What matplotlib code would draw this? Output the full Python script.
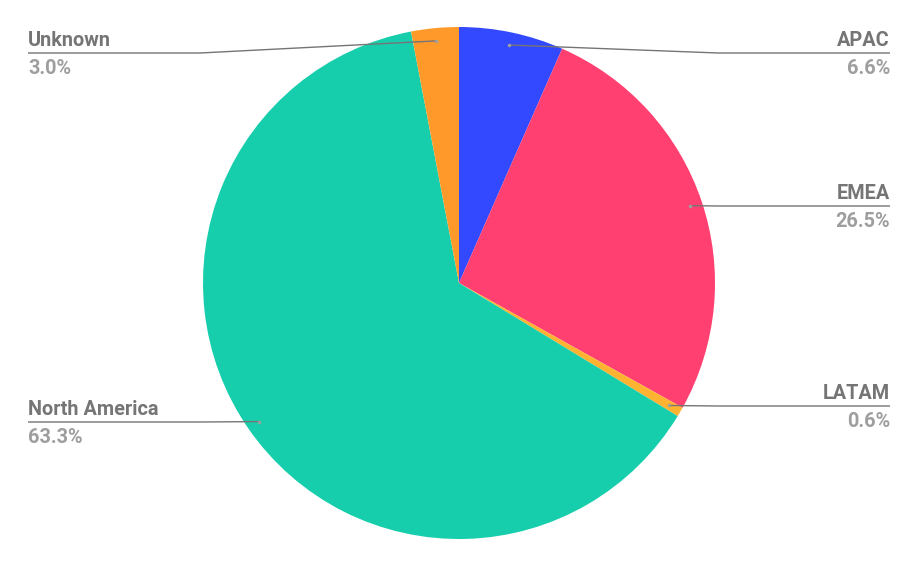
import numpy as np
import matplotlib
matplotlib.use("Agg")
import matplotlib.pyplot as plt

# data
regions = ["APAC", "EMEA", "LATAM", "North America", "Unknown"]
shares = [6.6, 26.5, 0.6, 63.3, 3.0]
colors = ["#3349ff", "#ff4070", "#ffb330", "#17ceac", "#ff9a2a"]

# label layout (pixel y of leader line, side)
label_y = [53, 206, 406, 422, 53]
label_side = ["R", "R", "R", "L", "L"]

W, H = 919, 568
fig = plt.figure(figsize=(W / 100, H / 100), dpi=100)
ax = fig.add_axes([0, 0, 1, 1])

cx, cy, R = 459, H - 283, 256
wedges, _ = ax.pie(shares, colors=colors, startangle=90, counterclock=False,
                   center=(cx, cy), radius=R, frame=True,
                   wedgeprops=dict(linewidth=0))
ax.set_xlim(0, W)
ax.set_ylim(0, H)
ax.axis("off")

name_col = "#757575"
pct_col = "#9e9e9e"
fp = dict(family=["Roboto", "DejaVu Sans"], fontweight="bold", fontsize=14.3)

for w, name, val, ly, side in zip(wedges, regions, shares, label_y, label_side):
    mid = np.deg2rad((w.theta1 + w.theta2) / 2)
    dx = cx + 0.95 * R * np.cos(mid)
    dy = cy + 0.95 * R * np.sin(mid)
    yy = H - ly
    if side == "R":
        bx, tx, ha = cx + R + 3, 890, "right"
    else:
        bx, tx, ha = cx - R - 3, 28, "left"
    if abs(dx - cx) > R:
        bx = dx
    ax.plot([dx, bx, tx], [dy, yy, yy], color=name_col, lw=1, solid_capstyle="butt")
    ax.plot(dx, dy, "o", ms=2.5, color="#9e9e9e", mec="none")
    ax.text(tx, yy + 3, name, ha=ha, va="bottom", color=name_col, **fp)
    ax.text(tx, yy - 6, f"{val:.1f}%", ha=ha, va="top", color=pct_col, **fp)

fig.savefig("out.png", dpi=100, facecolor="white")
